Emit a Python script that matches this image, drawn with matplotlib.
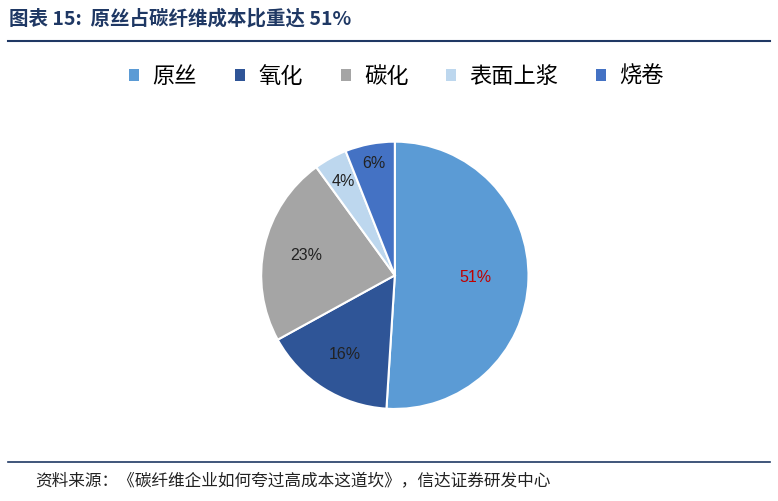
import numpy as np
import matplotlib.pyplot as plt
from matplotlib.patches import Patch

plt.rcParams['font.family'] = ['Noto Sans CJK SC', 'DejaVu Sans']

labels = ["原丝", "氧化", "碳化", "表面上浆", "烧卷"]
values = [51, 16, 23, 4, 6]
colors = ["#5B9BD5", "#2F5597", "#A5A5A5", "#BDD7EE", "#4472C4"]

fig = plt.figure(figsize=(7.78, 5.01), dpi=100)

fig.text(0.012, 0.963, "图表 15:  原丝占碳纤维成本比重达 51%", fontsize=14,
         fontweight="bold", color="#1F3864", va="center")
fig.add_artist(plt.Line2D([0.01, 0.99], [0.918, 0.918], color="#1F3864", lw=1.5))
fig.add_artist(plt.Line2D([0.01, 0.99], [0.077, 0.077], color="#1F3864", lw=1.2))
fig.text(0.045, 0.04, "资料来源：《碳纤维企业如何夸过高成本这道坎》，信达证券研发中心",
         fontsize=12, style="italic", color="#222222", va="center")

ax = fig.add_axes([0.334, 0.181, 0.347, 0.539])
wedges, texts = ax.pie(values, colors=colors, startangle=90, counterclock=False,
                       wedgeprops=dict(edgecolor="white", linewidth=1.5))
radii = [0.6, 0.7, 0.68, 0.8, 0.85]
for w, v, r in zip(wedges, values, radii):
    ang = np.deg2rad((w.theta1 + w.theta2) / 2)
    ax.text(r * np.cos(ang), r * np.sin(ang), f"{v}%", ha="center", va="center",
            fontsize=11.5, family="Liberation Sans",
            color="#C00000" if v == 51 else "#222222")
ax.set_aspect("equal")
ax.set_xlim(-1.01, 1.01)
ax.set_ylim(-1.01, 1.01)

handles = [Patch(facecolor=c, label=l) for c, l in zip(colors, labels)]
fig.legend(handles=handles, loc="center", bbox_to_anchor=(0.51, 0.848), ncol=5,
           frameon=False, fontsize=16, handlelength=0.45, handleheight=0.45,
           columnspacing=1.7, handletextpad=0.6)

fig.savefig("out.png", dpi=100)
